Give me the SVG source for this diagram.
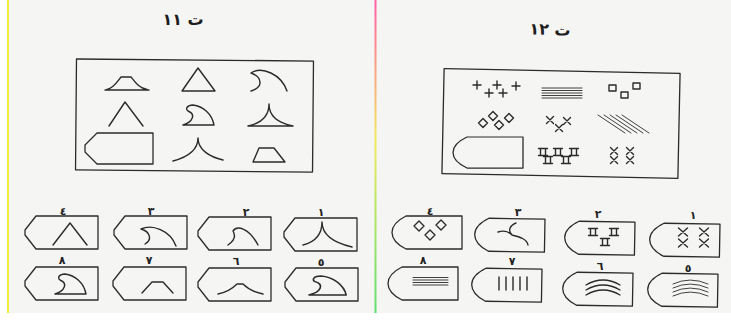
<svg xmlns="http://www.w3.org/2000/svg" width="731" height="327" viewBox="0 0 731 327">
<style>
.ln{fill:none;stroke:#2b2b2b;stroke-width:1.4;stroke-linecap:round;stroke-linejoin:round}
.thin{fill:none;stroke:#2b2b2b;stroke-width:0.9;stroke-linecap:round}
.bx{fill:none;stroke:#2b2b2b;stroke-width:1.3;stroke-linejoin:round}
.lbl{font-family:"DejaVu Sans",sans-serif;font-size:11px;font-weight:bold;fill:#222;text-anchor:middle}
.ttl{font-family:"DejaVu Sans",sans-serif;font-size:16px;font-weight:bold;fill:#1e1e1e;text-anchor:middle}
</style>
<defs>
<linearGradient id="div" x1="0" y1="0" x2="0" y2="1">
<stop offset="0" stop-color="#ff5fa8"/>
<stop offset="0.45" stop-color="#f2ea60"/>
<stop offset="1" stop-color="#5fe070"/>
</linearGradient>
<path id="pent" d="M11,0 H73 V33 H11 L0,19 V14 Z"/>
<path id="bul" d="M14,0 H70 V33 H14 Q0,26 0,16.5 Q0,7 14,0 Z"/>
<path id="fin" d="M0,20 H31 C29,9 20,1 10,0 C4,0 2,4 5,6 C13,9 10,17 0,20 Z"/>
<path id="plus" d="M-4,0 H4 M0,-4 V4"/>
<path id="dia" d="M0,-4.5 L4.5,0 L0,4.5 L-4.5,0 Z"/>
<path id="dia5" d="M0,-5 L5,0 L0,5 L-5,0 Z"/>
<path id="x" d="M-3.5,-3.5 L3.5,3.5 M3.5,-3.5 L-3.5,3.5"/>
<path id="x45" d="M-4.5,-4 L4.5,4 M4.5,-4 L-4.5,4"/>
<path id="sq" d="M-4.5,-3.5 H4.5 M-4.5,3.5 H4.5 M-2.5,-3.5 V3.5 M2.5,-3.5 V3.5"/>
</defs>

<rect x="0" y="0" width="731" height="327" fill="#ffffff"/>
<rect x="8" y="0" width="723" height="313" fill="#f5f5f3"/>
<rect x="7" y="0" width="2" height="313" fill="#f0ee3a"/>
<rect x="374.5" y="0" width="2" height="313" fill="url(#div)"/>

<!-- Left panel -->
<g id="title-left"><text class="ttl" x="183" y="25">ت ١١</text></g>

<g id="matrix-left" transform="rotate(0.5 194 116)">
<rect class="bx" x="76" y="60" width="237" height="111"/>
</g>
<g id="cell-l11"><path class="ln" d="M105,90 H149 M107,89.5 C114,88 117,82 121,77 H131 C135,82 139,88 147,89.5"/></g>
<g id="cell-l12"><path class="ln" d="M198,68 L182,91 H215 Z"/></g>
<g id="cell-l13"><path class="ln" d="M251,73 C262,66 281,74 287,91 M251,73 C262,77 264,87 251,91"/></g>
<g id="cell-l21"><path class="ln" d="M109,126 L125,102 L143,126"/></g>
<g id="cell-l22"><use href="#fin" class="ln" transform="translate(183,105)"/></g>
<g id="cell-l23"><path class="ln" d="M248,126 H293 M248,126 C262,123 269,116 269,104 C269,116 278,123 293,126"/></g>
<g id="cell-l31"><path class="bx" d="M97,133 H153 V164 H97 L85,152 V145 Z"/></g>
<g id="cell-l32"><path class="ln" d="M173,161 C188,157 198,150 198,138 C198,150 210,157 223,160"/></g>
<g id="cell-l33"><path class="ln" d="M259,148 H274 L285,162 H253 Z"/></g>

<g id="opt-l4"><text class="lbl" x="63" y="215">٤</text><use href="#pent" class="bx" transform="translate(25,216)"/><path class="ln" d="M53,245 L70,223 L87,245"/></g>
<g id="opt-l3"><text class="lbl" x="151" y="215">٣</text><use href="#pent" class="bx" transform="translate(114,216)"/><path class="ln" d="M141,229 C152,224 170,230 176,246 M141,229 C151,232 152,240 145,244"/></g>
<g id="opt-l2"><text class="lbl" x="246" y="216">٢</text><use href="#pent" class="bx" transform="translate(198,217)"/><path class="ln" d="M228,245 C234,241 236,236 233,231 C237,225 249,228 258,245"/></g>
<g id="opt-l1"><text class="lbl" x="321" y="216">١</text><use href="#pent" class="bx" transform="translate(284,218)"/><path class="ln" d="M303,245 C315,242 322,235 322,222 C322,235 335,243 352,247"/></g>
<g id="opt-l8"><text class="lbl" x="62" y="264">٨</text><use href="#pent" class="bx" transform="translate(25,267)"/><use href="#fin" class="ln" transform="translate(55,274)"/></g>
<g id="opt-l7"><text class="lbl" x="149" y="264">٧</text><use href="#pent" class="bx" transform="translate(113,267)"/><path class="ln" d="M142,293 L152,282 H163 L173,293"/></g>
<g id="opt-l6"><text class="lbl" x="236" y="265">٦</text><use href="#pent" class="bx" transform="translate(198,268)"/><path class="ln" d="M218,294 C228,292 233,288 237,284 H243 C247,288 252,292 263,294"/></g>
<g id="opt-l5"><text class="lbl" x="321" y="266">٥</text><use href="#pent" class="bx" transform="translate(285,268)"/><use href="#fin" class="ln" transform="translate(309,276) scale(1.2,0.95)"/></g>

<!-- Right panel -->
<g id="title-right"><text class="ttl" x="550" y="35" transform="rotate(2 550 30)">ت ١٢</text></g>

<g id="matrix-right" transform="rotate(1.2 561 123.5)">
<rect class="bx" x="443" y="71" width="236" height="105"/>
</g>
<g id="cell-r11" class="ln">
<use href="#plus" x="477" y="85"/><use href="#plus" x="497" y="85"/><use href="#plus" x="516" y="86"/>
<use href="#plus" x="489" y="93"/><use href="#plus" x="503" y="93"/>
</g>
<g id="cell-r12" class="thin"><path d="M542,88 H582 M542,90.5 H582 M542,93 H582 M542,95.5 H582 M542,98 H582"/></g>
<g id="cell-r13" class="ln"><rect x="609" y="85" width="7" height="6"/><rect x="621" y="92" width="7" height="6"/><rect x="633" y="83" width="7" height="6"/></g>
<g id="cell-r21" class="ln"><use href="#dia" x="493" y="116"/><use href="#dia" x="509" y="118"/><use href="#dia" x="483" y="123"/><use href="#dia" x="499" y="125"/></g>
<g id="cell-r22" class="ln"><use href="#x" x="550" y="120"/><use href="#x" x="567" y="121"/><use href="#x" x="559" y="128"/></g>
<g id="cell-r23" class="thin"><path d="M598,115 L625,133 M604,115 L631,133 M610,115 L637,133 M616,115 L643,133 M622,115 L649,133"/></g>
<g id="cell-r31"><use href="#bul" class="bx" transform="translate(453,137) scale(1,0.94)"/></g>
<g id="cell-r32" class="ln"><use href="#sq" x="543" y="152"/><use href="#sq" x="558" y="152"/><use href="#sq" x="574" y="152"/><use href="#sq" x="548" y="160"/><use href="#sq" x="566" y="160"/></g>
<g id="cell-r33" class="ln"><use href="#x" x="614" y="151"/><use href="#x" x="630" y="151"/><use href="#x" x="614" y="160"/><use href="#x" x="630" y="160"/></g>

<g id="opt-r4"><text class="lbl" x="430" y="215">٤</text><use href="#bul" class="bx" transform="translate(392,216)"/>
<g class="ln"><use href="#dia5" x="419" y="226"/><use href="#dia5" x="441" y="225"/><use href="#dia5" x="430" y="235"/></g></g>
<g id="opt-r3"><text class="lbl" x="518" y="216">٣</text><use href="#bul" class="bx" transform="translate(475,218) rotate(1)"/>
<path class="ln" d="M516,223 C509,226 508,231 512,235 M498,232 C504,230 509,232 512,235 M512,235 C520,237 527,239 528,245"/></g>
<g id="opt-r2"><text class="lbl" x="598" y="218">٢</text><use href="#bul" class="bx" transform="translate(565,221) rotate(1)"/>
<g class="ln"><use href="#sq" x="593" y="232"/><use href="#sq" x="614" y="232"/><use href="#sq" x="605" y="242"/></g></g>
<g id="opt-r1"><text class="lbl" x="693" y="219">١</text><use href="#bul" class="bx" transform="translate(650,223) rotate(1)"/>
<g class="ln"><use href="#x45" x="683" y="232"/><use href="#x45" x="704" y="232"/><use href="#x45" x="683" y="243"/><use href="#x45" x="704" y="243"/></g></g>
<g id="opt-r8"><text class="lbl" x="423" y="264">٨</text><use href="#bul" class="bx" transform="translate(388,267)"/>
<path class="thin" d="M413,277.5 H448 M413,280 H448 M413,282.5 H448 M413,285 H448"/></g>
<g id="opt-r7"><text class="lbl" x="512" y="265">٧</text><use href="#bul" class="bx" transform="translate(472,268) rotate(1)"/>
<path class="ln" d="M499,277 V290 M506,277 V290 M513,277 V290 M520,277 V290 M527,277 V290"/></g>
<g id="opt-r6"><text class="lbl" x="600" y="270">٦</text><use href="#bul" class="bx" transform="translate(563,272) rotate(1)"/>
<path class="ln" d="M586,285 Q603,275 620,285 M586,290 Q603,280 620,290 M586,295 Q603,285 620,295"/></g>
<g id="opt-r5"><text class="lbl" x="688" y="272">٥</text><use href="#bul" class="bx" transform="translate(648,273) rotate(1)"/>
<path class="thin" d="M673,284 Q690,276 708,284 M673,288 Q690,280 708,288 M673,292 Q690,284 708,292 M673,296 Q690,288 708,296"/></g>
</svg>
